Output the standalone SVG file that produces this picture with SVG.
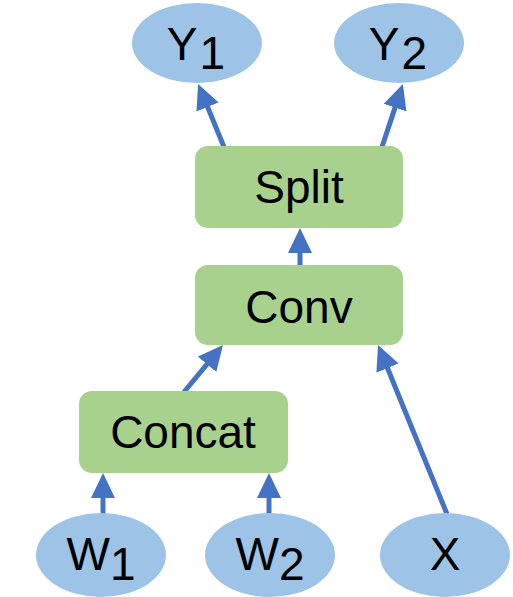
<svg xmlns="http://www.w3.org/2000/svg" width="513" height="597" viewBox="0 0 513 597">
  <defs>
    <marker id="arrow" markerUnits="userSpaceOnUse" markerWidth="26" markerHeight="26" refX="5" refY="12" orient="auto">
      <path d="M0,0 L25,12 L0,24 z" fill="#4472C4"/>
    </marker>
    <style>
      .data { fill: #9DC3E6; }
      .op { fill: #A9D18E; }
      .label { font-family: "Liberation Sans", Arial, sans-serif; font-size: 46px; fill: #000; text-anchor: middle; }
      .edge { stroke: #4472C4; stroke-width: 5; fill: none; marker-end: url(#arrow); }
    </style>
  </defs>

  <g id="connectors">
    <line class="edge" x1="103" y1="514" x2="103" y2="493"/>
    <line class="edge" x1="269" y1="514" x2="269" y2="493"/>
    <line class="edge" x1="184" y1="392" x2="210.2" y2="360.4"/>
    <line class="edge" x1="447" y1="514" x2="385.6" y2="363.5"/>
    <line class="edge" x1="300" y1="266" x2="300" y2="248"/>
    <line class="edge" x1="224" y1="147" x2="205.7" y2="102.4"/>
    <line class="edge" x1="382" y1="147" x2="396.6" y2="102.9"/>
  </g>

  <g id="Y1">
    <ellipse class="data" cx="197" cy="43" rx="65" ry="40"/>
    <text class="label" x="196" y="60">Y<tspan dx="2" dy="9">1</tspan></text>
  </g>
  <g id="Y2">
    <ellipse class="data" cx="399" cy="43" rx="65" ry="40"/>
    <text class="label" x="398" y="60">Y<tspan dx="2" dy="9">2</tspan></text>
  </g>

  <g id="Split">
    <rect class="op" x="195" y="146" width="208" height="82" rx="13"/>
    <text class="label" x="299" y="203">Split</text>
  </g>
  <g id="Conv">
    <rect class="op" x="195" y="265" width="208" height="80" rx="13"/>
    <text class="label" x="299" y="323">Conv</text>
  </g>
  <g id="Concat">
    <rect class="op" x="79" y="391" width="209" height="82" rx="13"/>
    <text class="label" x="183" y="448">Concat</text>
  </g>

  <g id="W1">
    <ellipse class="data" cx="101" cy="555" rx="65" ry="42"/>
    <text class="label" x="101" y="570">W<tspan dy="10">1</tspan></text>
  </g>
  <g id="W2">
    <ellipse class="data" cx="270" cy="555" rx="65" ry="42"/>
    <text class="label" x="270" y="570">W<tspan dy="10">2</tspan></text>
  </g>
  <g id="X">
    <ellipse class="data" cx="445" cy="555" rx="65" ry="42"/>
    <text class="label" x="445" y="570">X</text>
  </g>
</svg>
